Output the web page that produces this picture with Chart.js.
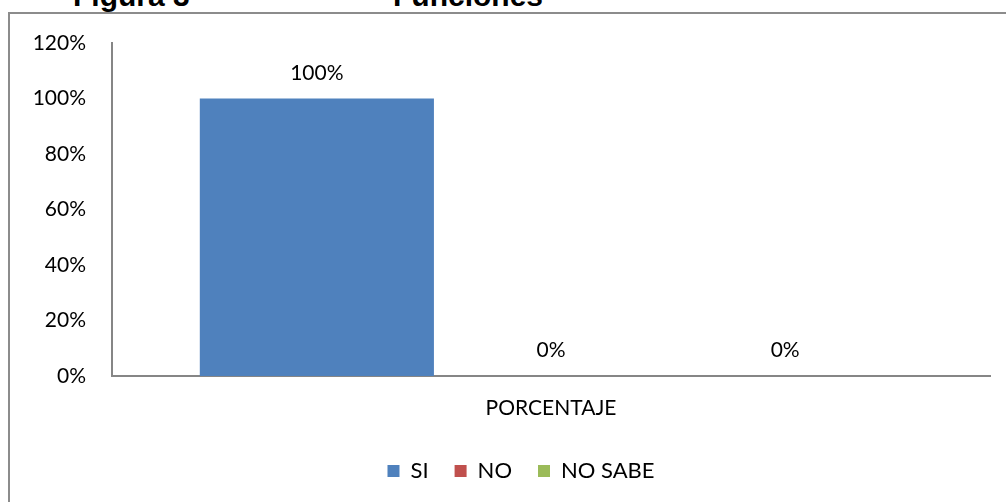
<!DOCTYPE html>
<html>
<head>
<meta charset="utf-8">
<script src="https://cdn.jsdelivr.net/npm/chart.js@4.4.1/dist/chart.umd.min.js"></script>
<style>
    html, body {
        margin: 0;
        padding: 0;
        background: #ffffff;
        overflow: hidden;
    }
    #page {
        position: relative;
        width: 1006px;
        height: 502px;
        overflow: hidden;
    }
    .caption {
        position: absolute;
        font-family: 'Liberation Sans', Arial, sans-serif;
        font-weight: bold;
        font-size: 30px;
        line-height: 30px;
        color: #000000;
        top: -19px;
        white-space: nowrap;
    }
    #frame {
        position: absolute;
        left: 8px;
        top: 12px;
        width: 1100px;
        height: 600px;
        border: 2px solid #8c8c8c;
    }
    #chartBox {
        position: absolute;
        left: 0;
        top: 0;
        width: 1006px;
        height: 502px;
    }
</style>
</head>
<body>
<div id="page">
    <div class="caption" style="left: 73px;">Figura 3</div>
    <div class="caption" style="left: 393px;">Funciones</div>
    <div id="frame"></div>
    <div id="chartBox"><canvas id="funcionesChart"></canvas></div>
</div>

<script>
// Encuesta: funciones
const categories = ['PORCENTAJE'];
const seriesNames = ['SI', 'NO', 'NO SABE'];
const siValues = [1.00];
const noValues = [0.00];
const noSabeValues = [0.00];
const yTicks = [0, 0.2, 0.4, 0.6, 0.8, 1.0, 1.2];

const seriesColors = ['#4F81BD', '#C0504D', '#9BBB59'];
const fontFamily = "Lato, 'Open Sans', sans-serif";

function pct(v) {
    return Math.round(v * 100) + '%';
}

// Writes each bar's value above it
const valueLabels = {
    id: 'valueLabels',
    afterDatasetsDraw: function(chart) {
        const ctx = chart.ctx;
        ctx.save();
        ctx.font = '21px ' + fontFamily;
        ctx.fillStyle = '#000000';
        ctx.textAlign = 'center';
        ctx.textBaseline = 'alphabetic';
        chart.data.datasets.forEach(function(dataset, i) {
            const meta = chart.getDatasetMeta(i);
            meta.data.forEach(function(bar, j) {
                ctx.fillText(pct(dataset.data[j]), bar.x, bar.y - 19);
            });
        });
        ctx.restore();
    }
};

// Centre the legend under the plot area rather than the whole canvas
const legendUnderPlot = {
    id: 'legendUnderPlot',
    afterLayout: function(chart) {
        const legend = chart.legend;
        const shift = (chart.chartArea.left + chart.chartArea.right) / 2 - (legend.left + legend.right) / 2 - 30;
        legend.left += shift;
        legend.right += shift;
    }
};

document.addEventListener('DOMContentLoaded', function() {
    Chart.defaults.font.family = fontFamily;
    Chart.defaults.color = '#000000';

    const ctx = document.getElementById('funcionesChart').getContext('2d');
    new Chart(ctx, {
        type: 'bar',
        data: {
            labels: categories,
            datasets: [{
                label: seriesNames[0],
                data: siValues,
                backgroundColor: seriesColors[0]
            }, {
                label: seriesNames[1],
                data: noValues,
                backgroundColor: seriesColors[1]
            }, {
                label: seriesNames[2],
                data: noSabeValues,
                backgroundColor: seriesColors[2]
            }]
        },
        options: {
            responsive: true,
            maintainAspectRatio: false,
            animation: false,
            categoryPercentage: 0.8,
            barPercentage: 1.0,
            layout: {
                padding: {
                    left: 0,
                    top: 43,
                    right: 16,
                    bottom: 10
                }
            },
            scales: {
                x: {
                    grid: {
                        display: false,
                        drawTicks: false,
                        tickLength: 0
                    },
                    border: {
                        display: true,
                        color: '#868686',
                        width: 2
                    },
                    ticks: {
                        padding: 20,
                        font: {
                            size: 21
                        }
                    },
                    afterFit: function(scale) {
                        scale.height = 58;
                    }
                },
                y: {
                    min: 0,
                    max: 1.2,
                    afterBuildTicks: function(scale) {
                        scale.ticks = yTicks.map(function(v) { return {value: v}; });
                    },
                    grid: {
                        display: false,
                        drawTicks: false,
                        tickLength: 0
                    },
                    border: {
                        display: true,
                        color: '#868686',
                        width: 2
                    },
                    ticks: {
                        padding: 26,
                        font: {
                            size: 21
                        },
                        callback: function(value) {
                            return pct(value);
                        }
                    },
                    afterFit: function(scale) {
                        scale.width = 112;
                    }
                }
            },
            plugins: {
                legend: {
                    display: true,
                    position: 'bottom',
                    labels: {
                        boxWidth: 12,
                        boxHeight: 12,
                        padding: 26,
                        font: {
                            size: 22
                        }
                    }
                },
                tooltip: {
                    enabled: false
                }
            }
        },
        plugins: [valueLabels, legendUnderPlot]
    });
});
</script>
</body>
</html>
